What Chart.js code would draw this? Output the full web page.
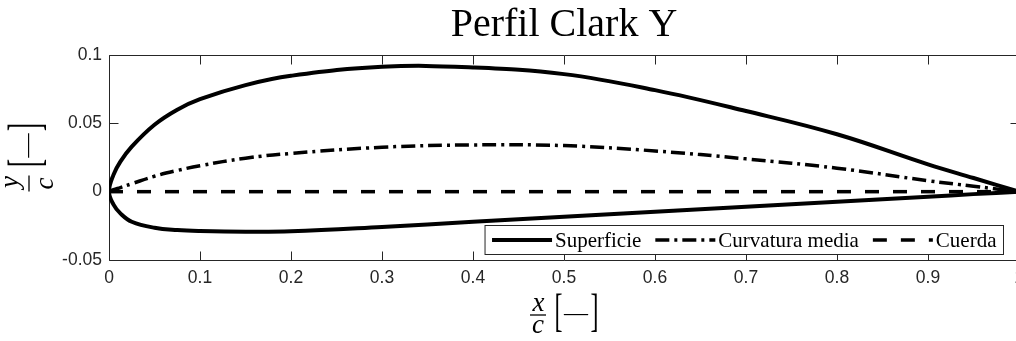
<!DOCTYPE html>
<html>
<head>
<meta charset="utf-8">
<title>Perfil Clark Y</title>
<script src="https://cdn.jsdelivr.net/npm/chart.js@4.4.1/dist/chart.umd.min.js"></script>
<style>
  html, body { margin: 0; padding: 0; background: #fff; overflow: hidden; width: 1016px; height: 341px; }
  #wrap { position: relative; width: 1016px; height: 341px; overflow: hidden; }
  canvas { position: absolute; left: 0; top: 0; }
</style>
</head>
<body>
<div id="wrap"><canvas id="airfoil" width="1040" height="341"></canvas></div>
<script>
// Chordwise stations x/c
const stations     = [0, 0.005, 0.0125, 0.025, 0.05, 0.075, 0.1, 0.15, 0.2, 0.3, 0.4, 0.5, 0.6, 0.7, 0.8, 0.9, 0.95, 1];
// Upper and lower surface y/c, mean camber line y/c
const upperSurface = [0, 0.0125, 0.022, 0.033, 0.049, 0.060, 0.0677, 0.078, 0.0848, 0.0914, 0.0909, 0.086, 0.0743, 0.059, 0.042, 0.020, 0.010, 0];
const lowerSurface = [0, -0.0095, -0.0159, -0.022, -0.0264, -0.0281, -0.0288, -0.0293, -0.0290, -0.0258, -0.0221, -0.0184, -0.0147, -0.011, -0.0074, -0.0037, -0.0018, 0];
const meanCamber   = [0, 0.0015, 0.003, 0.0058, 0.0113, 0.0155, 0.019, 0.0245, 0.028, 0.0325, 0.0342, 0.0337, 0.0298, 0.024, 0.0172, 0.008, 0.004, 0];
// Chord line from leading to trailing edge
const chordX = [0, 1];
const chordY = [0, 0];

const seriesNames = ['Superficie', 'Curvatura media', 'Cuerda'];
const xTickLabels = ['0', '0.1', '0.2', '0.3', '0.4', '0.5', '0.6', '0.7', '0.8', '0.9', '1'];
const yTickLabels = ['-0.05', '0', '0.05', '0.1'];
const titleText = 'Perfil Clark Y';

const AXIS = '#262626';
const SANS = '"Liberation Sans", Arial, Helvetica, sans-serif';
const SERIF = '"Liberation Serif", "Times New Roman", serif';

const toPoints = (xs, ys) => xs.map((x, i) => ({ x: x, y: ys[i] }));
// Closed contour: trailing edge -> upper surface -> leading edge -> lower surface -> trailing edge
const surfacePoints = toPoints(stations, upperSurface).reverse().concat(toPoints(stations, lowerSurface).slice(1));

// Place text by its ink box rather than by its baseline
function inkText(ctx, str, font, pos) {
  ctx.font = font;
  ctx.textAlign = 'left';
  ctx.textBaseline = 'alphabetic';
  const m = ctx.measureText(str);
  let x, y;
  if (pos.left !== undefined) x = pos.left + m.actualBoundingBoxLeft;
  else if (pos.right !== undefined) x = pos.right - m.actualBoundingBoxRight;
  else x = pos.cx - (m.actualBoundingBoxRight - m.actualBoundingBoxLeft) / 2;
  if (pos.top !== undefined) y = pos.top + m.actualBoundingBoxAscent;
  else if (pos.bottom !== undefined) y = pos.bottom - m.actualBoundingBoxDescent;
  else y = pos.cy + (m.actualBoundingBoxAscent - m.actualBoundingBoxDescent) / 2;
  ctx.fillText(str, x, y);
}

// Stretched bracket glyph spanning a given height
function bracket(ctx, ch, x, cy, height, side) {
  const font = '24px ' + SERIF;
  ctx.font = font;
  const m = ctx.measureText(ch);
  const h = m.actualBoundingBoxAscent + m.actualBoundingBoxDescent;
  const k = height / h;
  ctx.save();
  ctx.translate(0, cy);
  ctx.scale(1, k);
  if (side === 'left') inkText(ctx, ch, font, { left: x, cy: 0 });
  else inkText(ctx, ch, font, { right: x, cy: 0 });
  ctx.restore();
}

// Fraction label  num/den [—]  drawn around the local origin (fraction bar on y = 0)
function fractionLabel(ctx, num, den, numBottom, denTop) {
  const italic = 'italic 27px ' + SERIF;
  const fx = -26;
  ctx.fillStyle = '#000';
  ctx.strokeStyle = '#000';
  ctx.lineWidth = 1.3;
  ctx.beginPath();
  ctx.moveTo(fx - 8, 0);
  ctx.lineTo(fx + 8, 0);
  ctx.stroke();
  inkText(ctx, num, italic, { cx: fx, bottom: numBottom });
  inkText(ctx, den, italic, { cx: fx, top: denTop });
  bracket(ctx, '[', -8.5, -0.5, 38, 'left');
  bracket(ctx, ']', 33.5, -0.5, 38, 'right');
  inkText(ctx, '\u2014', '24px ' + SERIF, { left: -1, cy: 0 });
}

const decorations = {
  id: 'decorations',
  beforeDatasetsDraw(chart) {
    const { ctx, chartArea: a, scales } = chart;
    const L = a.left + 0.5, R = a.right + 0.5, T = a.top + 0.5, B = a.bottom + 0.5;
    const tick = 9;
    ctx.save();
    ctx.strokeStyle = AXIS;
    ctx.lineWidth = 1;
    ctx.beginPath();
    ctx.rect(L, T, R - L, B - T);
    scales.x.ticks.forEach(t => {
      const px = Math.round(scales.x.getPixelForValue(t.value)) + 0.5;
      ctx.moveTo(px, B); ctx.lineTo(px, B - tick);
      ctx.moveTo(px, T); ctx.lineTo(px, T + tick);
    });
    scales.y.ticks.forEach(t => {
      const py = Math.round(scales.y.getPixelForValue(t.value)) + 0.5;
      ctx.moveTo(L, py); ctx.lineTo(L + tick, py);
      ctx.moveTo(R, py); ctx.lineTo(R - tick, py);
    });
    ctx.stroke();
    ctx.restore();
  },
  afterDraw(chart) {
    const { ctx, chartArea: a } = chart;
    const midX = (a.left + a.right) / 2;
    const midY = (a.top + a.bottom) / 2;
    ctx.save();

    // Title
    ctx.fillStyle = '#000';
    ctx.font = '40px ' + SERIF;
    ctx.textAlign = 'center';
    ctx.textBaseline = 'alphabetic';
    ctx.fillText(titleText, midX, 36);

    // x-axis label
    ctx.save();
    ctx.translate(midX, 315);
    fractionLabel(ctx, 'x', 'c', -4, 5);
    ctx.restore();

    // y-axis label
    ctx.save();
    ctx.translate(29, midY);
    ctx.rotate(-Math.PI / 2);
    fractionLabel(ctx, 'y', 'c', -5, 11);
    ctx.restore();

    // Legend inside the axes, lower right
    const sets = chart.data.datasets;
    const font = '21px ' + SERIF;
    ctx.font = font;
    const sample = 60, gapText = 3, gapItem = 14, padL = 7, padR = 7;
    const widths = sets.map(d => ctx.measureText(d.label).width);
    const total = widths.reduce((s, w) => s + w + sample + gapText, 0) + gapItem * (sets.length - 1);
    const boxW = padL + total + padR;
    const boxR = 1003.5;
    const boxL = boxR - boxW;
    const boxT = 225.5, boxH = 29;
    ctx.fillStyle = '#fff';
    ctx.fillRect(boxL, boxT, boxW, boxH);
    ctx.strokeStyle = AXIS;
    ctx.lineWidth = 1;
    ctx.strokeRect(boxL, boxT, boxW, boxH);
    let x = boxL + padL;
    const ly = 240;
    sets.forEach((d, i) => {
      ctx.save();
      ctx.strokeStyle = d.borderColor;
      ctx.lineWidth = d.borderWidth;
      ctx.lineCap = 'butt';
      ctx.setLineDash(d.borderDash || []);
      ctx.beginPath();
      ctx.moveTo(x, ly);
      ctx.lineTo(x + sample, ly);
      ctx.stroke();
      ctx.restore();
      ctx.fillStyle = '#000';
      ctx.font = font;
      ctx.textAlign = 'left';
      ctx.textBaseline = 'alphabetic';
      ctx.fillText(d.label, x + sample + gapText, 247);
      x += sample + gapText + widths[i] + gapItem;
    });
    ctx.restore();
  }
};

const tickFont = { family: SANS, size: 17.5 };

new Chart(document.getElementById('airfoil'), {
  type: 'scatter',
  data: {
    datasets: [
      {
        label: seriesNames[0],
        data: surfacePoints,
        showLine: true,
        borderColor: '#000',
        borderWidth: 4,
        borderJoinStyle: 'miter',
        tension: 0.4,
        pointRadius: 0,
        order: 3
      },
      {
        label: seriesNames[1],
        data: toPoints(stations, meanCamber),
        showLine: true,
        borderColor: '#000',
        borderWidth: 3.5,
        borderDash: [14, 5, 3, 5],
        tension: 0.4,
        pointRadius: 0,
        order: 2
      },
      {
        label: seriesNames[2],
        data: toPoints(chordX, chordY),
        showLine: true,
        borderColor: '#000',
        borderWidth: 3.5,
        borderDash: [14, 14],
        pointRadius: 0,
        order: 1
      }
    ]
  },
  options: {
    responsive: false,
    animation: false,
    devicePixelRatio: 1,
    events: [],
    layout: { padding: { left: 0, top: 55, right: 21, bottom: 0 } },
    plugins: { legend: { display: false }, title: { display: false }, tooltip: { enabled: false } },
    scales: {
      x: {
        type: 'linear',
        min: 0,
        max: 1,
        afterFit(s) { s.height = 81; },
        grid: { display: false, drawTicks: false },
        border: { display: false },
        ticks: {
          stepSize: 0.1,
          padding: 8,
          color: AXIS,
          font: tickFont,
          maxRotation: 0,
          autoSkip: false,
          callback: (v, i) => xTickLabels[i]
        }
      },
      y: {
        type: 'linear',
        min: -0.05,
        max: 0.1,
        afterFit(s) { s.width = 109; },
        grid: { display: false, drawTicks: false },
        border: { display: false },
        ticks: {
          stepSize: 0.05,
          padding: 7,
          color: AXIS,
          font: tickFont,
          autoSkip: false,
          callback: (v, i) => yTickLabels[i]
        }
      }
    }
  },
  plugins: [decorations]
});
</script>
</body>
</html>
